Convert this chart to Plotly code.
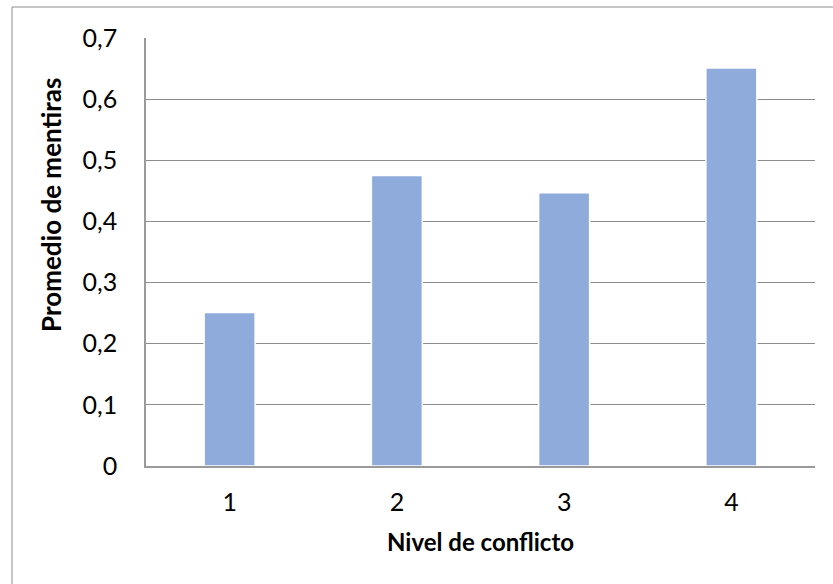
import plotly.graph_objects as go

# Average number of lies per conflict level
niveles = ["1", "2", "3", "4"]
promedios = [0.251, 0.475, 0.447, 0.651]
y_ticks = [0, 0.1, 0.2, 0.3, 0.4, 0.5, 0.6, 0.7]
y_labels = ["0", "0,1", "0,2", "0,3", "0,4", "0,5", "0,6", "0,7"]

W, H = 833, 584
L, R, T, B = 146, 18, 38, 118
pw, ph = W - L - R, H - T - B

fig = go.Figure(
    go.Bar(
        x=niveles,
        y=promedios,
        marker=dict(color="#8FABDC", line=dict(color="white", width=1.5)),
        hoverinfo="x+y",
    )
)

font = "Lato, 'Open Sans', sans-serif"

fig.update_layout(
    width=W,
    height=H,
    margin=dict(l=L, r=R, t=T, b=B),
    paper_bgcolor="white",
    plot_bgcolor="white",
    bargap=0.695,
    showlegend=False,
    separators=",.",
    font=dict(family=font, size=25, color="black"),
    xaxis=dict(
        type="category",
        showgrid=False,
        showline=True,
        linecolor="#9a9a9a",
        linewidth=1.5,
        ticks="outside",
        ticklen=13,
        tickcolor="rgba(0,0,0,0)",
        tickfont=dict(size=25),
    ),
    yaxis=dict(
        range=[0, 0.7],
        tickvals=y_ticks,
        ticktext=y_labels,
        showgrid=True,
        gridcolor="#8c8c8c",
        gridwidth=1.2,
        zeroline=False,
        showline=True,
        linecolor="#9a9a9a",
        linewidth=1.5,
        ticks="outside",
        ticklen=22,
        tickcolor="rgba(0,0,0,0)",
        tickfont=dict(size=25),
    ),
    annotations=[
        dict(
            text="<b>Nivel de conflicto</b>",
            xref="paper",
            yref="paper",
            x=0.5,
            y=-(541 - T - ph) / ph,
            xanchor="center",
            yanchor="middle",
            showarrow=False,
            font=dict(size=24),
        ),
        dict(
            text="<b>Promedio de mentiras</b>",
            xref="paper",
            yref="paper",
            x=(51 - L) / pw,
            y=(H - B - 205) / ph,
            xanchor="center",
            yanchor="middle",
            textangle=-90,
            showarrow=False,
            font=dict(size=26),
        ),
    ],
    shapes=[
        # chart frame (left and top edges are visible)
        dict(
            type="rect",
            xref="paper",
            yref="paper",
            x0=(12 - L) / pw,
            x1=(W + 10 - L) / pw,
            y0=-(H + 10 - T - ph) / ph,
            y1=(H - B - 7) / ph,
            line=dict(color="#8c8c8c", width=1),
            layer="below",
        )
    ],
)

fig.write_html("out.html")
